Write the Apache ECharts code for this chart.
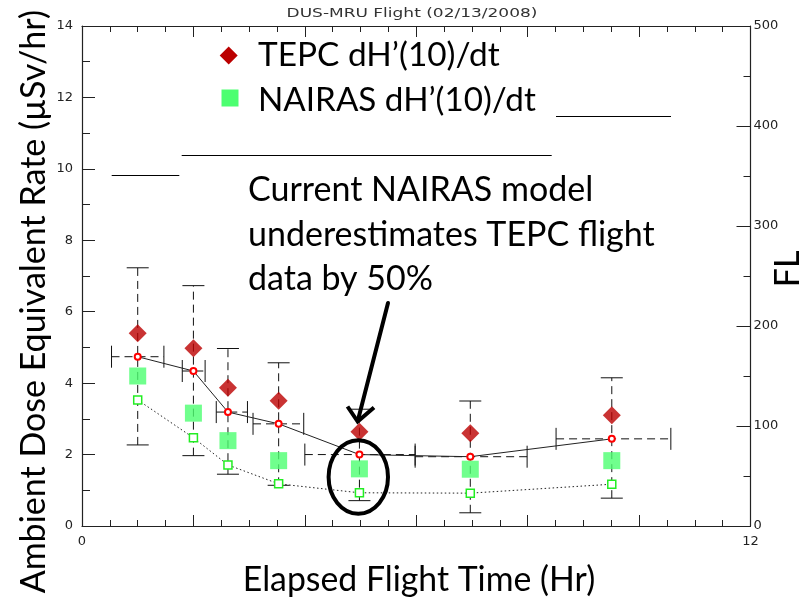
<!DOCTYPE html>
<html><head><meta charset="utf-8">
<script src="https://cdn.jsdelivr.net/npm/echarts@6/dist/echarts.min.js"></script>
<style>html,body{margin:0;padding:0;background:#fff}#c{width:805px;height:597px}</style>
</head><body><div id="c"></div>
<script>
// ---- data ----
const hours       = [1.00, 2.00, 2.62, 3.53, 4.98, 6.97, 9.51];
const tepcDose    = [5.40, 4.98, 3.87, 3.51, 2.64, 2.60, 3.10];
const tepcMean    = [4.74, 4.34, 3.19, 2.86, 2.00, 1.94, 2.44];
const nairasDose  = [4.20, 3.16, 2.39, 1.83, 1.60, 1.59, 1.83];
const nairasModel = [3.53, 2.47, 1.71, 1.18, 0.93, 0.92, 1.17];
const errLow      = [2.27, 1.97, 1.45, 1.14, 0.71, 0.37, 0.78];
const errHigh     = [7.23, 6.73, 4.97, 4.57, 3.27, 3.50, 4.15];
const binStart    = [0.53, 1.80, 2.41, 3.07, 4.00, 5.98, 8.51];
const binEnd      = [1.47, 2.21, 2.97, 3.98, 5.98, 7.99, 10.57];
const xTickLabels = [0, 12];

const titleText = 'DUS-MRU Flight (02/13/2008)';
const xTitle = 'Elapsed Flight Time (Hr)';
const yTitle = 'Ambient Dose Equivalent Rate (µSv/hr)';
const y2Title = 'FL';
const legendNames = ['TEPC dH’(10)/dt', 'NAIRAS dH’(10)/dt'];
const noteLines = ['Current NAIRAS model', 'underestimates TEPC flight', 'data by 50%'];

// ---- helpers ----
const BIG = 'Lato';
const mctx = document.createElement('canvas').getContext('2d');
function fit(text, target) {
  mctx.font = '100px ' + BIG;
  return Math.round(100 * target / mctx.measureText(text).width * 10) / 10;
}
const capFont = fit(noteLines[1], 407);

const chart = echarts.init(document.getElementById('c'), null, {renderer: 'canvas'});
const axisCol = '#222';
const lblStyle = {color: '#222', fontFamily: 'DejaVu Sans', fontSize: 13};
const tepcColor = '#bb0000';
const nairasColor = '#4cff70';

function bigText(text, x, y, size, align) {
  return {
    type: 'text', x: x, y: y, z: 50,
    style: {text: text, fontFamily: BIG, fontSize: size, fill: '#000',
            align: align || 'left', verticalAlign: 'middle'}
  };
}
function axisBase(interval, tickLen, minorSplit, minorLen) {
  return {
    type: 'value', interval: interval,
    axisLine: {show: true, onZero: false, lineStyle: {color: axisCol, width: 1.2}},
    axisTick: {show: true, inside: true, length: tickLen, lineStyle: {color: axisCol}},
    minorTick: {show: true, splitNumber: minorSplit, length: minorLen, lineStyle: {color: axisCol}},
    splitLine: {show: false}, minorSplitLine: {show: false}
  };
}

const option = {
  animation: false,
  backgroundColor: '#fff',
  grid: {left: 82, right: 54.5, top: 26, bottom: 71, containLabel: false},
  xAxis: [
    Object.assign(axisBase(2, 11, 4, 6), {min: 0, max: 12, position: 'bottom',
      axisLabel: Object.assign({margin: 9, formatter: v => xTickLabels.indexOf(v) >= 0 ? String(v) : ''}, lblStyle)}),
    Object.assign(axisBase(2, 11, 4, 6), {min: 0, max: 12, position: 'top', axisLabel: {show: false}})
  ],
  yAxis: [
    Object.assign(axisBase(2, 13, 2, 8), {min: 0, max: 14, position: 'left',
      axisLabel: Object.assign({margin: 9}, lblStyle)}),
    Object.assign(axisBase(100, 14, 2, 7), {min: 0, max: 500, position: 'right',
      axisLabel: Object.assign({margin: 3}, lblStyle)})
  ],
  series: [{
    name: 'TEPC error', type: 'custom', z: 1, silent: true,
    data: hours.map((h, i) => [h, errLow[i], errHigh[i], binStart[i], binEnd[i], tepcMean[i]]),
    renderItem: function (params, api) {
      const x = api.value(0);
      const pLo = api.coord([x, api.value(1)]);
      const pHi = api.coord([x, api.value(2)]);
      const pL = api.coord([api.value(3), api.value(5)]);
      const pR = api.coord([api.value(4), api.value(5)]);
      const cap = 11;
      const dash = {stroke: '#111', lineWidth: 1, lineDash: [8, 5], fill: null};
      const solid = {stroke: '#111', lineWidth: 1, fill: null};
      const L = (a, b, c, d, s) => ({type: 'line', shape: {x1: a, y1: b, x2: c, y2: d}, style: s});
      return {type: 'group', children: [
        L(pLo[0], pLo[1], pHi[0], pHi[1], dash),
        L(pLo[0] - cap, pLo[1], pLo[0] + cap, pLo[1], solid),
        L(pHi[0] - cap, pHi[1], pHi[0] + cap, pHi[1], solid),
        L(pL[0], pL[1], pR[0], pR[1], dash),
        L(pL[0], pL[1] - cap, pL[0], pL[1] + cap, solid),
        L(pR[0], pR[1] - cap, pR[0], pR[1] + cap, solid)
      ]};
    }
  }, {
    name: 'TEPC mean', type: 'line', z: 3,
    data: hours.map((h, i) => [h, tepcMean[i]]),
    symbol: 'circle', symbolSize: 6, showSymbol: true,
    itemStyle: {color: '#fff', borderColor: '#ff0000', borderWidth: 2},
    lineStyle: {color: '#222', width: 1}
  }, {
    name: 'NAIRAS model', type: 'line', z: 3,
    data: hours.map((h, i) => [h, nairasModel[i]]),
    symbol: 'rect', symbolSize: 8, showSymbol: true,
    itemStyle: {color: '#fff', borderColor: '#22ee22', borderWidth: 1.5},
    lineStyle: {color: '#222', width: 1, type: [1.5, 2.5]}
  }, {
    name: legendNames[0], type: 'scatter', z: 4,
    data: hours.map((h, i) => [h, tepcDose[i]]),
    symbol: 'diamond', symbolSize: 18,
    itemStyle: {color: tepcColor}
  }, {
    name: legendNames[1], type: 'scatter', z: 4,
    data: hours.map((h, i) => [h, nairasDose[i]]),
    symbol: 'rect', symbolSize: 17,
    itemStyle: {color: nairasColor}
  }],
  graphic: [
    {type: 'text', x: 412, y: 14, scaleX: 1.36, z: 50,
     style: {text: titleText, fontFamily: 'DejaVu Sans', fontSize: 12.5, fill: '#333', align: 'center', verticalAlign: 'middle'}},
    // legend
    {type: 'polygon', z: 50, shape: {points: [[228.7, 46.5], [237.7, 55.5], [228.7, 64.5], [219.7, 55.5]]}, style: {fill: tepcColor}},
    {type: 'rect', z: 50, shape: {x: 221.5, y: 89.5, width: 17, height: 17}, style: {fill: nairasColor}},
    bigText(legendNames[0], 258, 55.5, fit(legendNames[0], 242)),
    bigText(legendNames[1], 258, 100.5, fit(legendNames[1], 278)),
    // note
    bigText(noteLines[0], 248, 190.5, capFont),
    bigText(noteLines[1], 248, 235, capFont),
    bigText(noteLines[2], 248, 279.5, capFont),
    // axis titles
    bigText(xTitle, 419, 580.5, fit(xTitle, 352), 'center'),
    {type: 'text', x: 34, y: 10, rotation: Math.PI / 2, z: 50,
     style: {text: yTitle, fontFamily: BIG, fontSize: fit(yTitle, 583), fill: '#000', align: 'right', verticalAlign: 'middle'}},
    {type: 'text', x: 788, y: 269, rotation: Math.PI / 2, z: 50,
     style: {text: y2Title, fontFamily: BIG, fontSize: capFont, fill: '#000', align: 'center', verticalAlign: 'middle'}},
    // stray rules
    {type: 'line', z: 50, shape: {x1: 111.7, y1: 175.5, x2: 179.3, y2: 175.5}, style: {stroke: '#000', lineWidth: 1}},
    {type: 'line', z: 50, shape: {x1: 181.7, y1: 155.5, x2: 551.7, y2: 155.5}, style: {stroke: '#000', lineWidth: 1}},
    {type: 'line', z: 50, shape: {x1: 556, y1: 116.5, x2: 671, y2: 116.5}, style: {stroke: '#000', lineWidth: 1}},
    // arrow + ellipse annotation
    {type: 'line', z: 60, shape: {x1: 388, y1: 303, x2: 358, y2: 420}, style: {stroke: '#000', lineWidth: 4, lineCap: 'round'}},
    {type: 'polyline', z: 60, shape: {points: [[347.5, 406.5], [357.7, 421.5], [374, 407.5]]}, style: {stroke: '#000', lineWidth: 4, fill: null, lineJoin: 'miter'}},
    {type: 'ellipse', z: 60, shape: {cx: 358.3, cy: 477, rx: 29.7, ry: 36.7}, style: {stroke: '#000', lineWidth: 4, fill: null}}
  ]
};
chart.setOption(option);
</script>
</body></html>
